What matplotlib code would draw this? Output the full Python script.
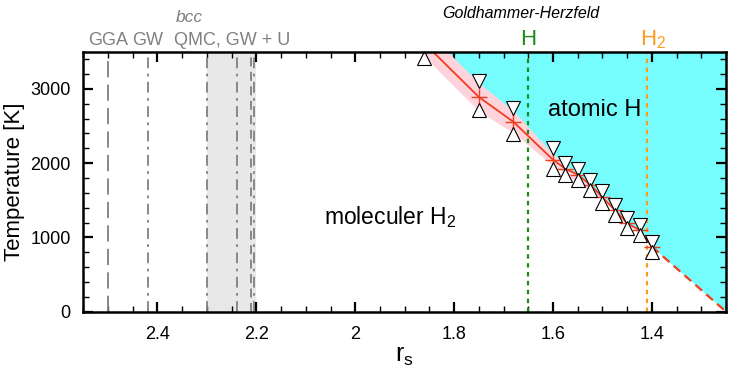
import matplotlib
matplotlib.use("Agg")
import matplotlib.pyplot as plt
import numpy as np

plt.rcParams.update({
    "font.family": ["Liberation Sans", "DejaVu Sans"],
    "mathtext.fontset": "custom",
    "mathtext.rm": "Liberation Sans",
    "mathtext.it": "Liberation Sans:italic",
    "xtick.direction": "in",
    "ytick.direction": "in",
    "xtick.top": True,
    "ytick.right": True,
})

# Data
rs_pts = [1.75, 1.68, 1.6, 1.575, 1.55, 1.525, 1.5, 1.475, 1.45, 1.425, 1.4]
T_upper = [3105, 2740, 2210, 2000, 1915, 1775, 1620, 1436, 1260, 1167, 940]
T_lower = [2715, 2390, 1915, 1845, 1775, 1640, 1460, 1300, 1125, 1035, 810]
T_mid = [2890, 2555, 2045, 1925, 1845, 1710, 1540, 1370, 1190, 1100, 875]
rs_extra, T_extra = [1.86], [3420]

line_rs = [1.843] + rs_pts
line_T = [3500] + T_mid
dash_rs = [1.4, 1.25]
dash_T = [875, 0]

band_rs = [1.90, 1.75, 1.68, 1.6, 1.5, 1.4]
band_lo = [3700, 2700, 2405, 1965, 1510, 875]
band_hi = [4080, 3080, 2705, 2125, 1570, 875]

# reference r_s values (bcc metallization etc.)
gga_rs, gw_rs = 2.5, 2.42
qmc_span = (2.3, 2.2)
qmc_lines = [(2.3, "-."), (2.24, "-."), (2.21, "--"), (2.205, "-.")]
gh_H, gh_H2 = 1.65, 1.41

fig = plt.figure(figsize=(7.47, 3.76), dpi=100)
ax = fig.add_axes([0.1115, 0.171, 0.8605, 0.6915])

# atomic region
edge_rs = line_rs + dash_rs[1:]
edge_T = line_T + dash_T[1:]
ax.fill_between(edge_rs, edge_T, 4000, color="#75fdfd", lw=0, zorder=1)
ax.fill_between(band_rs, band_lo, band_hi, color="#ffd3dc", lw=0, zorder=2)

ax.axvspan(*qmc_span, color="#e8e8e8", lw=0, zorder=1)
ax.axvline(gga_rs, color="#808080", ls=(0, (9, 4)), lw=1.3, zorder=3)
ax.axvline(gw_rs, color="#808080", ls=(0, (6, 3, 1.5, 3)), lw=1.3, zorder=3)
for x, ls in qmc_lines:
    style = (0, (6, 3, 1.5, 3)) if ls == "-." else (0, (5, 3))
    ax.axvline(x, color="#808080", ls=style, lw=1.3, zorder=3)

ax.axvline(gh_H, color="#1a8c1a", ls=(0, (2, 2)), lw=1.6, zorder=3)
ax.axvline(gh_H2, color="#ff9a20", ls=(0, (2, 2)), lw=1.6, zorder=3)

ax.plot(line_rs, line_T, color="#f23c1e", lw=1.3, marker="+", ms=11,
        markevery=list(range(1, len(line_rs))), zorder=4)
ax.plot(dash_rs, dash_T, color="#f23c1e", lw=1.6, ls=(0, (4, 2.5)), zorder=4)
ax.plot(rs_pts, T_upper, ls="none", marker="v", ms=10, mfc="white",
        mec="black", mew=0.8, zorder=5)
ax.plot(rs_pts + rs_extra, T_lower + T_extra, ls="none", marker="^", ms=10,
        mfc="white", mec="black", mew=0.8, zorder=5, clip_on=False)

ax.set_xlim(2.55, 1.25)
ax.set_ylim(0, 3500)
ax.set_xticks([2.4, 2.2, 2.0, 1.8, 1.6, 1.4])
ax.set_xticklabels(["2.4", "2.2", "2", "1.8", "1.6", "1.4"])
ax.set_xticks(np.arange(1.25, 2.56, 0.05), minor=True)
ax.set_yticks([0, 1000, 2000, 3000])
ax.set_yticks(np.arange(0, 3501, 200), minor=True)
ax.tick_params(which="major", length=7, width=1.6, labelsize=13)
ax.tick_params(axis="x", which="major", pad=10)
ax.tick_params(axis="y", which="major", pad=9)
ax.tick_params(which="minor", length=4, width=1.0)
for s in ax.spines.values():
    s.set_linewidth(1.8)
    s.set_zorder(6)

ax.set_xlabel(r"r$_\mathrm{s}$", fontsize=18, labelpad=1)
ax.set_ylabel("Temperature [K]", fontsize=16, labelpad=4)

ax.text(1.515, 2715, "atomic H", fontsize=17, ha="center", va="center", zorder=6)
ax.text(1.93, 1280, r"moleculer H$_2$", fontsize=16.5, ha="center", va="center", zorder=6)

grey = "#808080"
base = 3590
ax.text(gga_rs, base, "GGA", color=grey, fontsize=13, ha="center", va="baseline", clip_on=False)
ax.text(gw_rs, base, "GW", color=grey, fontsize=13, ha="center", va="baseline", clip_on=False)
ax.text(2.25, base, "QMC, GW + U", color=grey, fontsize=13, ha="center", va="baseline", clip_on=False)
ax.text(2.335, 3895, "bcc", color=grey, fontsize=12.5, style="italic", ha="center", va="baseline", clip_on=False)
ax.text(1.665, 3950, "Goldhammer-Herzfeld", fontsize=11.5, style="italic", ha="center", va="baseline", clip_on=False)
ax.text(gh_H, base, "H", color="#1a8c1a", fontsize=16, ha="center", va="baseline", clip_on=False)
ax.text(gh_H2 - 0.012, base, r"H$_2$", color="#ff9a20", fontsize=16, ha="center", va="baseline", clip_on=False)

fig.savefig("out.png", dpi=100)
plt.close(fig)
